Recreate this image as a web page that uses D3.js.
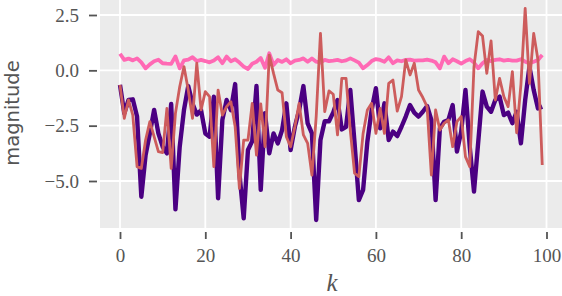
<!DOCTYPE html>
<html><head><meta charset="utf-8">
<script src="https://cdn.jsdelivr.net/npm/d3@7"></script>
<style>html,body{margin:0;padding:0;background:#fff;}svg{display:block;}</style>
</head><body>
<svg id="chart" width="562" height="296"></svg>
<script>
const kValues = d3.range(0, 100);
const purpleSeries = [-0.66,-1.94,-1.34,-1.31,-2.09,-5.71,-3.83,-2.85,-1.79,-2.85,
 -3.45,-3.75,-1.52,-6.28,-3.45,-1.79,-0.71,-1.5,-2.0,-1.8,
 -2.85,-3.0,-1.19,-5.78,-2.24,-1.34,-1.8,-0.62,-4.65,-6.69,
 -3.6,-3.2,-0.71,-5.4,-1.94,-3.75,-2.85,-3.3,-2.7,-1.49,
 -3.6,-2.55,-1.8,-0.71,-2.4,-2.85,-6.76,-3.15,-2.3,-2.3,
 -1.9,-1.34,-2.67,-2.55,-0.89,-3.3,-5.86,-5.4,-3.22,-1.79,
 -0.81,-2.62,-1.49,-3.15,-2.77,-2.97,-2.55,-2.09,-1.57,-1.91,
 -2.09,-1.87,-1.61,-2.24,-5.86,-2.62,-2.32,-2.24,-1.57,-3.67,
 -2.77,-0.89,-3.45,-5.48,-3.22,-0.96,-1.64,-1.87,-1.34,-1.19,
 -2.02,-1.91,-2.39,-1.87,-3.3,-1.34,0.17,-0.89,-1.72,-1.64];
const pinkSeries = [0.75,0.47,0.53,0.45,0.54,0.36,0.09,0.27,0.41,0.48,
 0.32,0.30,0.29,0.63,0.09,0.45,0.48,0.59,0.42,0.47,
 0.42,0.36,0.44,0.59,0.32,0.62,0.41,0.50,0.35,0.17,
 0.06,0.30,0.39,0.56,0.12,0.77,0.24,0.47,0.38,0.50,
 0.32,0.44,0.47,0.54,0.39,0.54,0.39,0.35,0.47,0.42,
 0.44,0.47,0.41,0.45,0.54,0.45,0.35,0.09,0.24,0.42,
 0.51,0.47,0.39,0.59,0.32,0.45,0.41,0.47,0.48,0.44,
 0.45,0.45,0.48,0.44,0.36,0.09,0.62,0.32,0.50,0.41,
 0.30,0.42,0.50,0.35,0.09,0.32,0.47,0.42,0.47,0.50,
 0.44,0.47,0.44,0.44,0.50,0.39,0.32,0.39,0.47,0.69];
const redSeries = [-0.66,-2.17,-1.34,-2.02,-4.35,-4.43,-3.15,-2.32,-3.0,-3.67,
 -3.72,-1.72,-4.43,-1.94,-0.74,0.17,-0.89,-2.17,0.32,-1.79,
 -0.96,-1.19,-4.35,-0.89,-2.02,-1.64,-1.42,-2.55,-5.33,-3.15,
 -3.15,-1.49,-3.83,-1.52,-3.45,0.69,-0.14,-0.89,-1.01,-3.0,
 -3.45,-2.55,-1.49,-2.92,-3.3,-4.73,-2.09,1.67,-1.87,-0.93,
 -1.08,-2.92,-0.36,-0.36,-2.73,-4.65,-4.8,-2.85,-1.79,-1.49,
 -2.85,-1.72,-2.85,-0.59,-0.44,-1.84,-1.19,0.47,-0.21,0.32,
 -0.89,-1.23,-1.64,-4.73,-1.79,-2.7,-2.39,-2.24,-3.45,-2.32,
 -2.09,-3.9,-4.35,0.17,1.75,1.55,-0.14,1.33,-1.34,-0.36,
 -1.19,-1.64,-0.06,-2.82,-0.66,2.8,-0.59,1.67,0.47,-4.28];
const xTicks = [0, 20, 40, 60, 80, 100];
const yTicks = [2.5, 0.0, -2.5, -5.0];
const xLabel = "k";
const yLabel = "magnitude";

const svg = d3.select("#chart");
const plot = {left: 100, right: 562, top: 0, bottom: 228};
const x = d3.scaleLinear().domain([0, 100]).range([120, 546.5]);
const y = d3.scaleLinear().domain([-5, 2.5]).range([181, 15]);

svg.append("defs").append("clipPath").attr("id", "clip")
  .append("rect").attr("x", plot.left).attr("y", plot.top)
  .attr("width", plot.right - plot.left).attr("height", plot.bottom - plot.top);

svg.append("rect").attr("x", plot.left).attr("y", plot.top)
  .attr("width", plot.right - plot.left).attr("height", plot.bottom - plot.top)
  .attr("fill", "#EBEBEB");

const grid = svg.append("g").attr("clip-path", "url(#clip)");
grid.selectAll(".gx").data(xTicks).join("line")
  .attr("x1", d => x(d)).attr("x2", d => x(d))
  .attr("y1", plot.top).attr("y2", plot.bottom)
  .attr("stroke", "#fff").attr("stroke-width", 1.8);
grid.selectAll(".gy").data(yTicks).join("line")
  .attr("x1", plot.left).attr("x2", plot.right)
  .attr("y1", d => y(d)).attr("y2", d => y(d))
  .attr("stroke", "#fff").attr("stroke-width", 1.8);

const lines = svg.append("g").attr("clip-path", "url(#clip)");
const lineGen = vals => d3.line().x((d, i) => x(kValues[i])).y(d => y(d))(vals);
lines.append("path").attr("d", lineGen(purpleSeries)).attr("fill", "none")
  .attr("stroke", "#4B0082").attr("stroke-width", 4.4).attr("stroke-linejoin", "round");
lines.append("path").attr("d", lineGen(pinkSeries)).attr("fill", "none")
  .attr("stroke", "#FF69B4").attr("stroke-width", 3.8).attr("stroke-linejoin", "round");
lines.append("path").attr("d", lineGen(redSeries)).attr("fill", "none")
  .attr("stroke", "#CD5C5C").attr("stroke-width", 2.8).attr("stroke-linejoin", "round");

const fmtY = d3.format(".1f");
const yAxis = svg.append("g").attr("transform", "translate(97,0)")
  .call(d3.axisLeft(y).tickValues(yTicks).tickFormat(fmtY).tickSize(8).tickPadding(10));
const xAxis = svg.append("g").attr("transform", "translate(0,232)")
  .call(d3.axisBottom(x).tickValues(xTicks).tickFormat(d3.format("d")).tickSize(7).tickPadding(10));
[yAxis, xAxis].forEach(a => {
  a.select(".domain").remove();
  a.selectAll(".tick line").attr("stroke", "#555").attr("stroke-width", 1.8);
  a.selectAll(".tick text").attr("fill", "#555")
    .style("font-family", "'Liberation Serif', serif").style("font-size", "19px");
});

svg.append("text").attr("x", 332).attr("y", 291).attr("text-anchor", "middle")
  .style("font-family", "'Liberation Serif', serif").style("font-style", "italic")
  .style("font-size", "25px").attr("fill", "#555").text(xLabel);
svg.append("text").attr("transform", "translate(19,113) rotate(-90)")
  .attr("text-anchor", "middle")
  .style("font-family", "'DejaVu Sans', sans-serif").style("font-size", "19.5px")
  .attr("fill", "#555").text(yLabel);
</script>
</body></html>
